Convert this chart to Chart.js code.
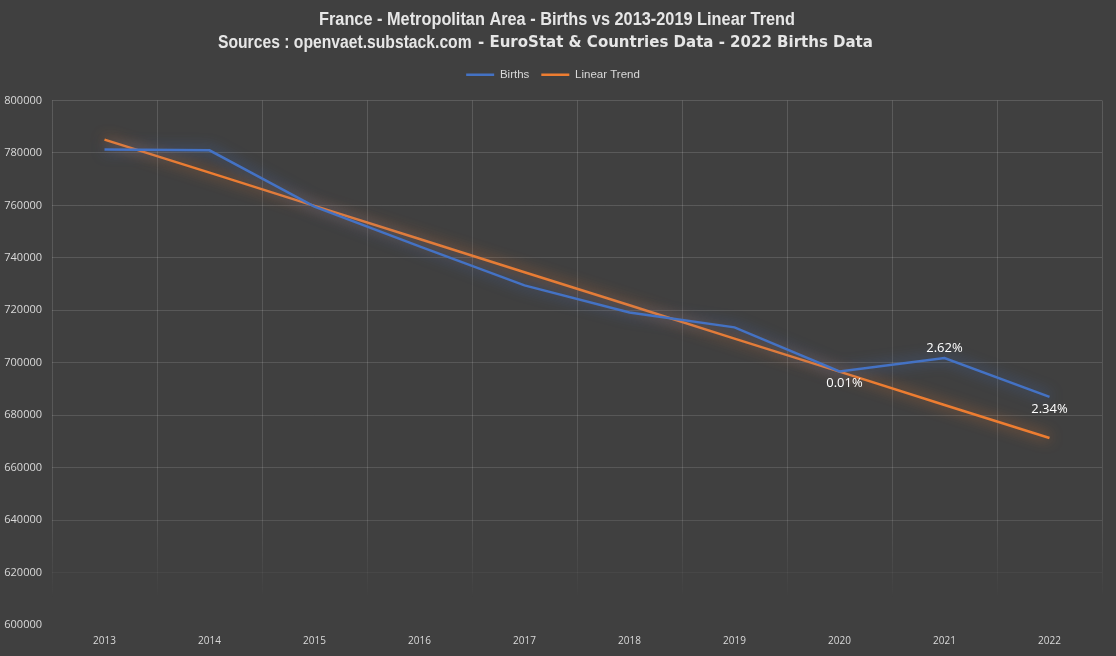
<!DOCTYPE html>
<html>
<head>
<meta charset="utf-8">
<script src="https://cdn.jsdelivr.net/npm/chart.js@4.4.0/dist/chart.umd.min.js"></script>
<style>
  html, body { margin: 0; padding: 0; background: #404040; }
  #wrap { width: 1116px; height: 656px; }
</style>
</head>
<body>
<div id="wrap"><canvas id="chart"></canvas></div>
<script>
const years = ['2013', '2014', '2015', '2016', '2017', '2018', '2019', '2020', '2021', '2022'];
const births = [781300, 781000, 759500, 744400, 729500, 719200, 713500, 696700, 701800, 687000];
const linearTrend = [785100, 772500, 759800, 747200, 734500, 721900, 709200, 696600, 683900, 671300];
// labels shown on the births line (excess over trend)
const excessLabels = [null, null, null, null, null, null, null, '0.01%', '2.62%', '2.34%'];
const excessBelow = [false, false, false, false, false, false, false, true, false, true];
const titleLine1 = 'France - Metropolitan Area - Births vs 2013-2019 Linear Trend';
const titleLine2a = 'Sources : openvaet.substack.com ';
const titleLine2b = '- EuroStat & Countries Data - 2022 Births Data';
const yTicks = [600000, 620000, 640000, 660000, 680000, 700000, 720000, 740000, 760000, 780000, 800000];

const narrow = "'Liberation Sans Narrow', 'Liberation Sans', sans-serif";
const txtColor = '#d9d9d9';

// grid fades out toward the bottom of the plot, as in the original
function gridColor(c) {
    const area = c.chart.chartArea;
    if (!area) return 'rgba(255,255,255,0.14)';
    const g = c.chart.ctx.createLinearGradient(0, area.top, 0, area.bottom);
    g.addColorStop(0, 'rgba(255,255,255,0.14)');
    g.addColorStop(0.78, 'rgba(255,255,255,0.12)');
    g.addColorStop(0.9, 'rgba(255,255,255,0.04)');
    g.addColorStop(0.95, 'rgba(255,255,255,0)');
    g.addColorStop(1, 'rgba(255,255,255,0)');
    return g;
}

const glowPlugin = {
    id: 'glow',
    beforeDatasetDraw(chart, args) {
        const ds = chart.data.datasets[args.index];
        chart.ctx.save();
        chart.ctx.shadowColor = ds.glowColor;
        chart.ctx.shadowBlur = 14;
    },
    afterDatasetDraw(chart) {
        chart.ctx.restore();
    }
};

// extra gap between the legend and the plot
const spacerPlugin = {
    id: 'legendSpacer',
    beforeInit(chart) {
        const box = {
            position: 'top', weight: 500, fullSize: true, options: {},
            left: 0, top: 0, right: 0, bottom: 0, width: 0, height: 0,
            isHorizontal() { return true; },
            update(maxWidth) { this.width = maxWidth; this.height = 10; },
            draw() {}
        };
        Chart.layouts.addBox(chart, box);
    }
};

const labelPlugin = {
    id: 'excessLabels',
    afterDatasetsDraw(chart) {
        const ctx = chart.ctx;
        const meta = chart.getDatasetMeta(0);
        ctx.save();
        ctx.font = "13px 'Open Sans', sans-serif";
        ctx.fillStyle = '#ffffff';
        ctx.textAlign = 'center';
        ctx.textBaseline = 'middle';
        excessLabels.forEach((lab, i) => {
            if (!lab) return;
            const pt = meta.data[i];
            const dy = excessBelow[i] ? 12 : -10;
            ctx.fillText(lab, pt.x + (i === 7 ? 5 : 0), pt.y + dy);
        });
        ctx.restore();
    }
};

const titlePlugin = {
    id: 'twoFontTitle',
    afterDraw(chart) {
        const ctx = chart.ctx;
        ctx.save();
        ctx.fillStyle = '#e6e6e6';
        ctx.textBaseline = 'middle';
        ctx.textAlign = 'center';
        ctx.font = 'bold 18px ' + narrow;
        ctx.fillText(titleLine1, 557, 20, 476);
        ctx.textAlign = 'left';
        ctx.fillText(titleLine2a, 218, 43, 258);
        ctx.font = "bold 15px 'DejaVu Sans', sans-serif";
        ctx.fillText(titleLine2b, 478, 43, 418);
        ctx.restore();
    }
};

new Chart(document.getElementById('chart'), {
    type: 'line',
    data: {
        labels: years,
        datasets: [{
            label: 'Births',
            data: births,
            borderColor: '#4472c4',
            backgroundColor: '#4472c4',
            glowColor: 'rgba(68, 114, 196, 0.85)',
            borderWidth: 2.5,
            pointRadius: 0,
            tension: 0,
            fill: false
        }, {
            label: 'Linear Trend',
            data: linearTrend,
            borderColor: '#ed7d31',
            backgroundColor: '#ed7d31',
            glowColor: 'rgba(237, 125, 49, 0.85)',
            borderWidth: 2.5,
            pointRadius: 0,
            tension: 0,
            fill: false
        }]
    },
    options: {
        responsive: true,
        maintainAspectRatio: false,
        animation: false,
        layout: { padding: { top: 57, left: 4, right: 14, bottom: 4 } },
        plugins: {
            title: { display: false },
            tooltip: { enabled: false },
            legend: {
                position: 'top',
                labels: {
                    color: txtColor,
                    font: { family: narrow, size: 11.5 },
                    usePointStyle: true,
                    pointStyleWidth: 28,
                    pointStyle: 'line',
                    boxHeight: 10,
                    padding: 12
                }
            }
        },
        scales: {
            x: {
                offset: true,
                grid: { offset: true, color: gridColor, drawTicks: false },
                border: { display: false },
                ticks: { color: txtColor, font: { family: "'Open Sans', sans-serif", size: 10 }, padding: 10 },
                afterFit(s) { s.height = 27; }
            },
            y: {
                min: 600000,
                max: 800000,
                afterBuildTicks(s) { s.ticks = yTicks.map(v => ({ value: v })); },
                grid: { color: gridColor, drawTicks: false },
                border: { display: false },
                ticks: {
                    color: txtColor,
                    font: { family: "'Open Sans', sans-serif", size: 11 },
                    padding: 10,
                    callback: v => String(v)
                },
                afterFit(s) { s.width = 48; }
            }
        }
    },
    plugins: [spacerPlugin, glowPlugin, labelPlugin, titlePlugin]
});
</script>
</body>
</html>
